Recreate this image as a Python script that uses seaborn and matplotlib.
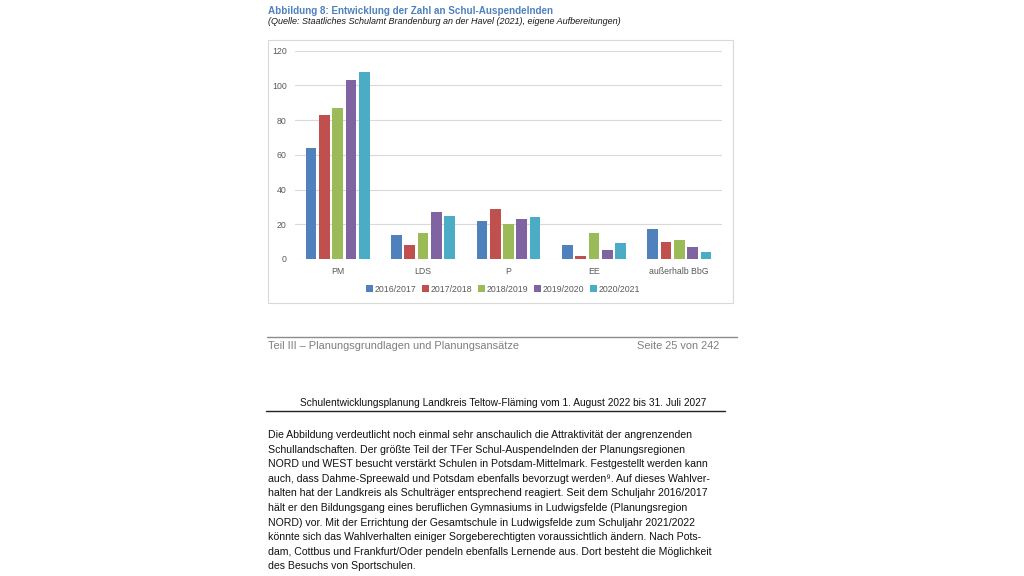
import pandas as pd
import seaborn as sns
import matplotlib.pyplot as plt
from matplotlib.patches import Rectangle
from matplotlib.lines import Line2D

# data
regions = ['PM', 'LDS', 'P', 'EE', 'außerhalb BbG']
years = ['2016/2017', '2017/2018', '2018/2019', '2019/2020', '2020/2021']
v_2016 = [64, 14, 22, 8, 17]
v_2017 = [83, 8, 29, 2, 10]
v_2018 = [87, 15, 20, 15, 11]
v_2019 = [103, 27, 23, 5, 7]
v_2020 = [108, 25, 24, 9, 4]
y_ticks = [0, 20, 40, 60, 80, 100, 120]

colors = ['#4F81BD', '#C0504D', '#9BBB59', '#8064A2', '#4BACC6']

rows = []
for year, vals in zip(years, [v_2016, v_2017, v_2018, v_2019, v_2020]):
    for reg, v in zip(regions, vals):
        rows.append({'region': reg, 'year': year, 'count': v})
df = pd.DataFrame(rows)

sns.set_style('white')
plt.rcParams['font.family'] = ['Liberation Sans', 'DejaVu Sans']

W, H = 1024, 576
fig = plt.figure(figsize=(10.24, 5.76), dpi=100)


def fx(px):
    return px / W


def fy(py):
    return 1 - py / H


# ==========================================
# CHART
# ==========================================
ax = fig.add_axes([fx(295), fy(259), fx(722) - fx(295), fy(50.7) - fy(259)])
sns.barplot(data=df, x='region', y='count', hue='year', palette=colors,
            width=0.78, gap=0.2, saturation=1, linewidth=0, ax=ax, legend=True)
ax.set_ylim(0, 120)
ax.set_xlim(-0.5, 4.5)
ax.set_yticks(y_ticks)
ax.yaxis.grid(True, color='#D9D9D9', linewidth=0.8)
ax.set_axisbelow(True)
for s in ax.spines.values():
    s.set_visible(False)
ax.tick_params(axis='both', length=0, colors='#595959', labelsize=6.3)
ax.tick_params(axis='y', pad=6)
ax.tick_params(axis='x', pad=6)
ax.set_xlabel('')
ax.set_ylabel('')

handles, labels = ax.get_legend_handles_labels()
ax.legend(handles, labels, ncol=5, loc='center', frameon=False,
          bbox_to_anchor=(fx(503), fy(289)), bbox_transform=fig.transFigure,
          fontsize=6.3, handlelength=0.8, handleheight=0.8, handletextpad=0.15,
          columnspacing=0.7, labelcolor='#595959')

# chart frame
fig.patches.append(Rectangle((fx(268), fy(302.7)), fx(732.7) - fx(268), fy(40) - fy(302.7),
                             transform=fig.transFigure, fill=False,
                             edgecolor='#D9D9D9', linewidth=0.8))

# ==========================================
# PAGE TEXT
# ==========================================
fig.text(fx(268), fy(10.5), 'Abbildung 8: Entwicklung der Zahl an Schul-Auspendelnden',
         fontsize=7.1, fontweight='bold', color='#4F81BD', va='center')
fig.text(fx(268), fy(21), '(Quelle: Staatliches Schulamt Brandenburg an der Havel (2021), eigene Aufbereitungen)',
         fontsize=6.5, fontstyle='italic', color='#1a1a1a', va='center')

fig.add_artist(Line2D([fx(267), fx(737)], [fy(336.5), fy(336.5)], transform=fig.transFigure,
                      color='#8c8c8c', linewidth=1))
fig.text(fx(268), fy(346), 'Teil III – Planungsgrundlagen und Planungsansätze',
         fontsize=7.95, color='#7f7f7f', va='center')
fig.text(fx(719), fy(346), 'Seite 25 von 242', fontsize=7.95, color='#7f7f7f',
         va='center', ha='right')

fig.text(fx(503), fy(403), 'Schulentwicklungsplanung Landkreis Teltow-Fläming vom 1. August 2022 bis 31. Juli 2027',
         fontsize=7.3, color='#111111', va='center', ha='center')
fig.add_artist(Line2D([fx(266), fx(725)], [fy(410.5), fy(410.5)], transform=fig.transFigure,
                      color='#222222', linewidth=1))

paragraph = [
    'Die Abbildung verdeutlicht noch einmal sehr anschaulich die Attraktivität der angrenzenden',
    'Schullandschaften. Der größte Teil der TFer Schul-Auspendelnden der Planungsregionen',
    'NORD und WEST besucht verstärkt Schulen in Potsdam-Mittelmark. Festgestellt werden kann',
    'auch, dass Dahme-Spreewald und Potsdam ebenfalls bevorzugt werden⁹. Auf dieses Wahlver-',
    'halten hat der Landkreis als Schulträger entsprechend reagiert. Seit dem Schuljahr 2016/2017',
    'hält er den Bildungsgang eines beruflichen Gymnasiums in Ludwigsfelde (Planungsregion',
    'NORD) vor. Mit der Errichtung der Gesamtschule in Ludwigsfelde zum Schuljahr 2021/2022',
    'könnte sich das Wahlverhalten einiger Sorgeberechtigten voraussichtlich ändern. Nach Pots-',
    'dam, Cottbus und Frankfurt/Oder pendeln ebenfalls Lernende aus. Dort besteht die Möglichkeit',
    'des Besuchs von Sportschulen.',
]
for i, line in enumerate(paragraph):
    fig.text(fx(268), fy(435 + i * 14.6), line, fontsize=7.6, color='#111111', va='center')

fig.savefig('out.png', dpi=100, facecolor='white')
